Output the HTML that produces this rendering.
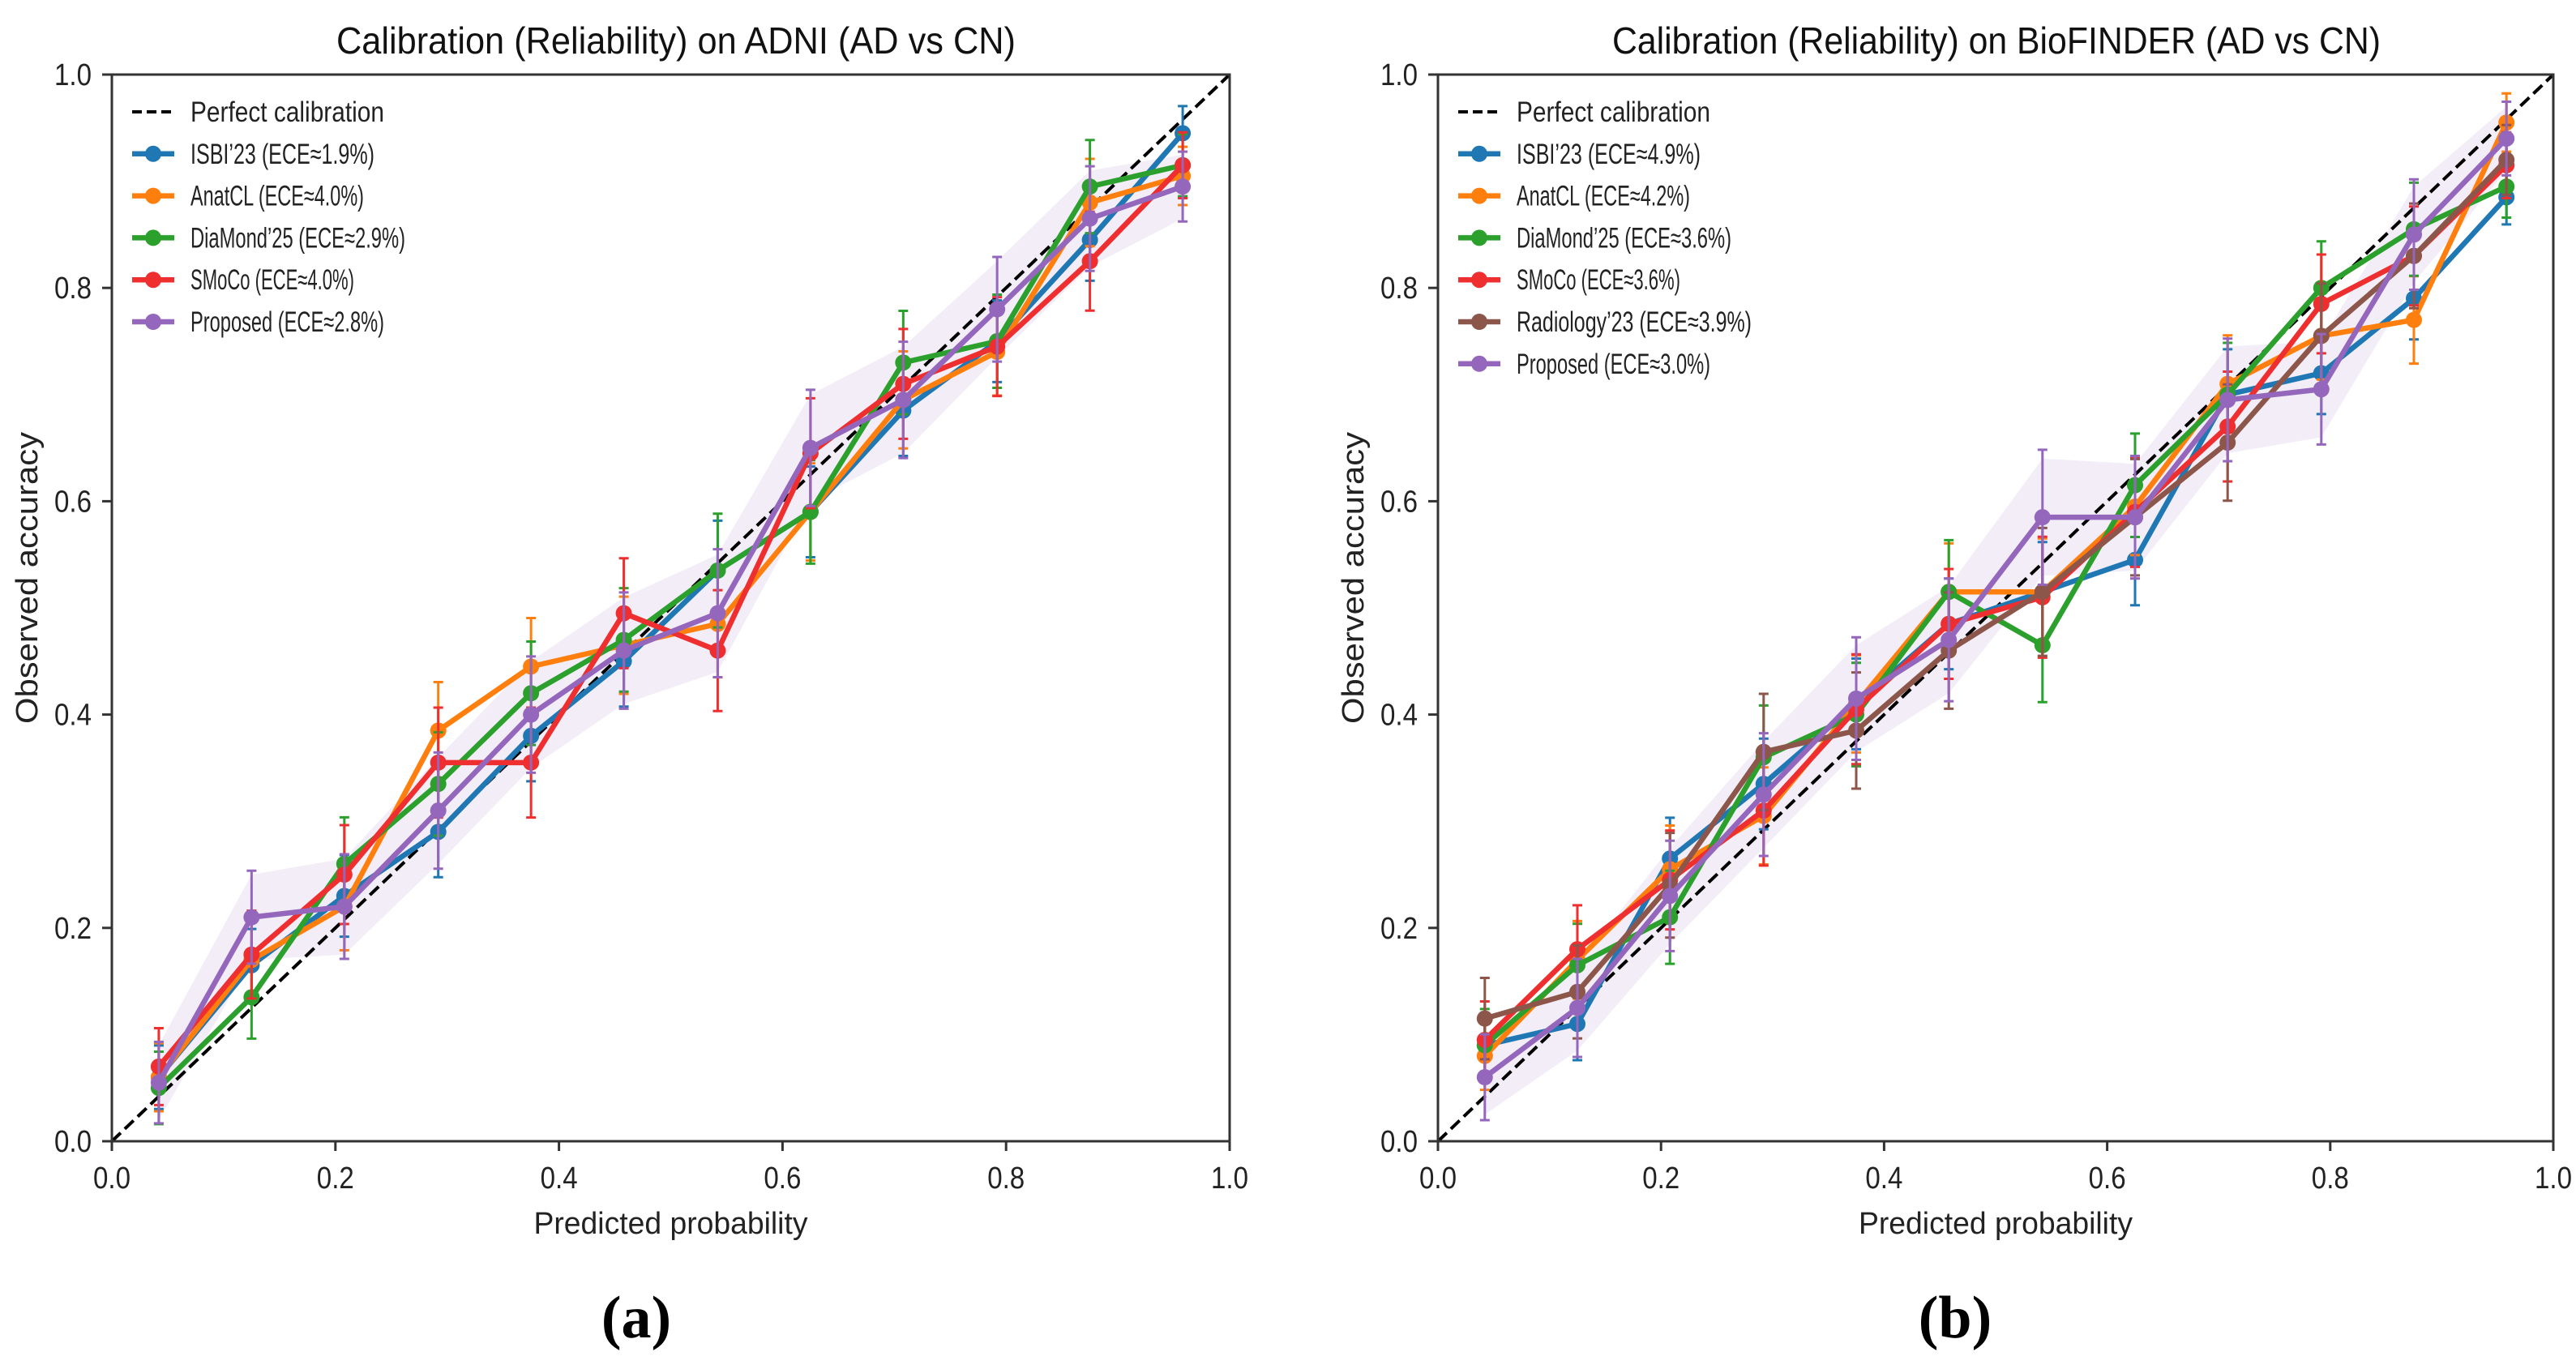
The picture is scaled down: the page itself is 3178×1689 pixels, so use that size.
<!DOCTYPE html>
<html><head><meta charset="utf-8">
<style>
html,body{margin:0;padding:0;background:#fff;}
svg{display:block;font-family:"Liberation Sans","DejaVu Sans",sans-serif;}
</style></head>
<body>
<svg id="fig" width="3178" height="1689" viewBox="0 0 3178 1689" xmlns="http://www.w3.org/2000/svg"></svg>
<script>
// ---- data ----
const binCenters = [0.042,0.125,0.208,0.292,0.375,0.458,0.542,0.625,0.708,0.792,0.875,0.958];
const axisTicks = [0,0.2,0.4,0.6,0.8,1.0];
const tickLabels = ["0.0","0.2","0.4","0.6","0.8","1.0"];

const adniNames = ["ISBI’23 (ECE≈1.9%)","AnatCL (ECE≈4.0%)","DiaMond’25 (ECE≈2.9%)","SMoCo (ECE≈4.0%)","Proposed (ECE≈2.8%)"];
const adniIsbi = [0.06,0.165,0.23,0.29,0.38,0.45,0.535,0.59,0.685,0.75,0.845,0.945];
const adniAnat = [0.06,0.17,0.22,0.385,0.445,0.465,0.485,0.59,0.695,0.74,0.88,0.905];
const adniDia = [0.05,0.135,0.26,0.335,0.42,0.47,0.535,0.59,0.73,0.75,0.895,0.915];
const adniSmoco = [0.07,0.175,0.25,0.355,0.355,0.495,0.46,0.645,0.71,0.745,0.825,0.915];
const adniProp = [0.055,0.21,0.22,0.31,0.40,0.46,0.495,0.65,0.695,0.78,0.865,0.895];
const adniErr = [0.035,0.04,0.045,0.05,0.05,0.05,0.055,0.05,0.05,0.045,0.045,0.03];

const bioNames = ["ISBI’23 (ECE≈4.9%)","AnatCL (ECE≈4.2%)","DiaMond’25 (ECE≈3.6%)","SMoCo (ECE≈3.6%)","Radiology’23 (ECE≈3.9%)","Proposed (ECE≈3.0%)"];
const bioIsbi = [0.09,0.11,0.265,0.335,0.41,0.485,0.515,0.545,0.70,0.72,0.79,0.885];
const bioAnat = [0.08,0.17,0.255,0.305,0.41,0.515,0.515,0.595,0.71,0.755,0.77,0.955];
const bioDia = [0.09,0.165,0.21,0.36,0.40,0.515,0.465,0.615,0.70,0.80,0.855,0.895];
const bioSmoco = [0.095,0.18,0.245,0.31,0.405,0.485,0.51,0.59,0.67,0.785,0.83,0.915];
const bioRadio = [0.115,0.14,0.24,0.365,0.385,0.46,0.515,0.585,0.655,0.755,0.83,0.92];
const bioProp = [0.06,0.125,0.23,0.325,0.415,0.47,0.585,0.585,0.695,0.705,0.85,0.94];
const bioErr = [0.035,0.04,0.045,0.05,0.05,0.05,0.055,0.05,0.05,0.045,0.045,0.03];

const seriesColors = {isbi:"#1f77b4",anat:"#ff7f0e",dia:"#2ca02c",smoco:"#ef2f2f",radio:"#8c564b",prop:"#9467bd"};

const NS = "http://www.w3.org/2000/svg";
const svg = document.getElementById('fig');
function mk(tag, attrs, parent){
  const e = document.createElementNS(NS, tag);
  for (const k in attrs) e.setAttribute(k, attrs[k]);
  (parent||svg).appendChild(e);
  return e;
}

function drawPanel(cfg){
  const g = mk('g', {});
  
  
  const X = v => cfg.x0 + v*(cfg.x1-cfg.x0);
  const Y = v => cfg.y0 - v*(cfg.y0-cfg.y1);

  const prop = cfg.series[cfg.series.length-1];
  let pts = prop.vals.map((v,i)=>X(binCenters[i])+','+Y(v+cfg.err[i])).join(' ');
  pts += ' ' + prop.vals.map((v,i)=>X(binCenters[i])+','+Y(v-cfg.err[i])).reverse().join(' ');
  const band = mk('polygon', {points:pts, fill:'#9467bd', 'fill-opacity':0.12}, g);
  
  

  const diag = mk('line', {x1:X(0),y1:Y(0),x2:X(1),y2:Y(1),stroke:'#000','stroke-width':4,'stroke-dasharray':'15,7'}, g);
  
  

  cfg.series.forEach((s, si) => {
    const sg = mk('g', {}, g);
    
    
    s.vals.forEach((v,i)=>{
      const e = cfg.err[i]*(0.85+0.06*si);
      const x = X(binCenters[i]);
      const eb = mk('path', {d:`M${x},${Y(v-e)}V${Y(v+e)}M${x-6},${Y(v-e)}h12M${x-6},${Y(v+e)}h12`, stroke:s.color,'stroke-width':3,fill:'none'}, sg);
      
      
    });
    const line = mk('polyline', {points:s.vals.map((v,i)=>X(binCenters[i])+','+Y(v)).join(' '), fill:'none', stroke:s.color,'stroke-width':6.5,'stroke-linejoin':'round'}, sg);
    
    
    s.vals.forEach((v,i)=>{
      const c = mk('circle', {cx:X(binCenters[i]), cy:Y(v), r:10, fill:s.color}, sg);
      
      
    });
  });

  const fr = mk('rect', {x:cfg.x0,y:cfg.y1,width:cfg.x1-cfg.x0,height:cfg.y0-cfg.y1,fill:'none',stroke:'#333','stroke-width':3}, g);
  
  

  axisTicks.forEach((t,i)=>{
    const xt = mk('path', {d:`M${X(t)},${cfg.y0}v12`, stroke:'#333','stroke-width':3}, g);
    
    
    const xl = mk('text', {x:X(t), y:cfg.y0+58, 'font-size':38, 'text-anchor':'middle', fill:'#222', textLength:46, lengthAdjust:'spacingAndGlyphs'}, g);
    xl.textContent = tickLabels[i];
    
    
    const yt = mk('path', {d:`M${cfg.x0},${Y(t)}h-12`, stroke:'#333','stroke-width':3}, g);
    
    
    const yl = mk('text', {x:cfg.x0-25, y:Y(t)+13, 'font-size':38, 'text-anchor':'end', fill:'#222', textLength:46, lengthAdjust:'spacingAndGlyphs'}, g);
    yl.textContent = tickLabels[i];
    
    
  });

  const tt = mk('text', {x:(cfg.tx0+cfg.tx1)/2, y:66, 'font-size':46, 'text-anchor':'middle', fill:'#111', textLength:cfg.tx1-cfg.tx0, lengthAdjust:'spacingAndGlyphs'}, g);
  tt.textContent = cfg.title;
  
  
  const xlab = mk('text', {x:(cfg.x0+cfg.x1)/2, y:1522, 'font-size':38, 'text-anchor':'middle', fill:'#222', textLength:338, lengthAdjust:'spacingAndGlyphs'}, g);
  xlab.textContent = 'Predicted probability';
  
  
  const ylab = mk('text', {x:0, y:0, 'font-size':38, 'text-anchor':'middle', fill:'#222', textLength:360, lengthAdjust:'spacingAndGlyphs', transform:`translate(${cfg.x0-92},713) rotate(-90)`}, g);
  ylab.textContent = 'Observed accuracy';
  
  

  const lg = mk('g', {}, g);
  
  
  const entries = [{name:'Perfect calibration', color:'#000', dash:true}].concat(cfg.series);
  entries.forEach((en,i)=>{
    const y = 138 + i*51.8;
    const lx = cfg.x0 + 25;
    const ln = mk('line', {x1:lx, y1:y, x2:lx+52, y2:y, stroke:en.color, 'stroke-width':en.dash?4:6.5, 'stroke-dasharray':en.dash?'12,6':'none'}, lg);
    
    
    if(!en.dash){
      const c = mk('circle', {cx:lx+26, cy:y, r:10, fill:en.color}, lg);
      
      
    }
    const label = en.name;
    const tx = mk('text', {x:lx+72, y:y+12, 'font-size':35, fill:'#222', textLength:Math.round(label.length*12.6), lengthAdjust:'spacingAndGlyphs'}, lg);
    tx.textContent = label;
    
    
  });
}

drawPanel({
  id:'adni', x0:138, x1:1517, y0:1408, y1:92, tx0:415, tx1:1253,
  title:'Calibration (Reliability) on ADNI (AD vs CN)', err:adniErr,
  series:[
    {key:'isbi', name:adniNames[0], vals:adniIsbi, color:seriesColors.isbi},
    {key:'anatcl', name:adniNames[1], vals:adniAnat, color:seriesColors.anat},
    {key:'diamond', name:adniNames[2], vals:adniDia, color:seriesColors.dia},
    {key:'smoco', name:adniNames[3], vals:adniSmoco, color:seriesColors.smoco},
    {key:'proposed', name:adniNames[4], vals:adniProp, color:seriesColors.prop}
  ]
});
drawPanel({
  id:'biofinder', x0:1774, x1:3150, y0:1408, y1:92, tx0:1989, tx1:2937,
  title:'Calibration (Reliability) on BioFINDER (AD vs CN)', err:bioErr,
  series:[
    {key:'isbi', name:bioNames[0], vals:bioIsbi, color:seriesColors.isbi},
    {key:'anatcl', name:bioNames[1], vals:bioAnat, color:seriesColors.anat},
    {key:'diamond', name:bioNames[2], vals:bioDia, color:seriesColors.dia},
    {key:'smoco', name:bioNames[3], vals:bioSmoco, color:seriesColors.smoco},
    {key:'radiology', name:bioNames[4], vals:bioRadio, color:seriesColors.radio},
    {key:'proposed', name:bioNames[5], vals:bioProp, color:seriesColors.prop}
  ]
});

const ca = mk('text', {x:785, y:1650, 'font-size':74, 'font-weight':'bold', 'text-anchor':'middle', 'font-family':'"Liberation Serif",serif', fill:'#000'});
ca.textContent = '(a)';


const cb = mk('text', {x:2412, y:1650, 'font-size':74, 'font-weight':'bold', 'text-anchor':'middle', 'font-family':'"Liberation Serif",serif', fill:'#000'});
cb.textContent = '(b)';


</script>
</body></html>
